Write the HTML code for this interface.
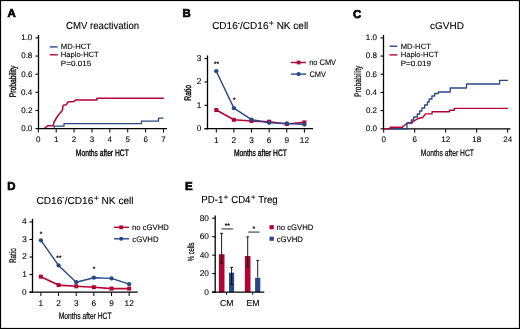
<!DOCTYPE html>
<html><head><meta charset="utf-8"><style>
html,body{margin:0;padding:0;background:#fff;}
svg{display:block;will-change:transform;text-rendering:geometricPrecision;}
text{font-family:"Liberation Sans", sans-serif;}
</style></head><body>
<svg width="520" height="329" viewBox="0 0 520 329">
<rect width="520" height="329" fill="#fff"/>
<rect x="0.5" y="0.5" width="519" height="328" fill="none" stroke="#000" stroke-width="1.2"/>
<text x="7.62" y="17.40" font-size="11.4" font-weight="bold" fill="#000" stroke="#000" stroke-width="0.7">A</text>
<text x="66.02" y="29.00" font-size="10.2" font-weight="normal" fill="#000" stroke="#000" stroke-width="0.1" textLength="73.09" lengthAdjust="spacingAndGlyphs">CMV reactivation</text>
<text x="32.32" y="131.00" font-size="8.0" text-anchor="end" fill="#000" stroke="#000" stroke-width="0.1">0.0</text>
<text x="32.40" y="112.86" font-size="8.0" text-anchor="end" fill="#000" stroke="#000" stroke-width="0.1">0.2</text>
<text x="32.24" y="94.72" font-size="8.0" text-anchor="end" fill="#000" stroke="#000" stroke-width="0.1">0.4</text>
<text x="32.36" y="76.58" font-size="8.0" text-anchor="end" fill="#000" stroke="#000" stroke-width="0.1">0.6</text>
<text x="32.32" y="58.44" font-size="8.0" text-anchor="end" fill="#000" stroke="#000" stroke-width="0.1">0.8</text>
<text x="32.32" y="40.30" font-size="8.0" text-anchor="end" fill="#000" stroke="#000" stroke-width="0.1">1.0</text>
<text x="38.30" y="142.30" font-size="8.0" text-anchor="middle" fill="#000" stroke="#000" stroke-width="0.1">0</text>
<text x="56.19" y="142.30" font-size="8.0" text-anchor="middle" fill="#000" stroke="#000" stroke-width="0.1">1</text>
<text x="74.07" y="142.30" font-size="8.0" text-anchor="middle" fill="#000" stroke="#000" stroke-width="0.1">2</text>
<text x="91.96" y="142.30" font-size="8.0" text-anchor="middle" fill="#000" stroke="#000" stroke-width="0.1">3</text>
<text x="109.84" y="142.30" font-size="8.0" text-anchor="middle" fill="#000" stroke="#000" stroke-width="0.1">4</text>
<text x="127.73" y="142.30" font-size="8.0" text-anchor="middle" fill="#000" stroke="#000" stroke-width="0.1">5</text>
<text x="145.61" y="142.30" font-size="8.0" text-anchor="middle" fill="#000" stroke="#000" stroke-width="0.1">6</text>
<text x="163.50" y="142.30" font-size="8.0" text-anchor="middle" fill="#000" stroke="#000" stroke-width="0.1">7</text>
<text x="75.86" y="155.80" font-size="9.3" font-weight="normal" fill="#000" stroke="#000" stroke-width="0.35" textLength="52.88" lengthAdjust="spacingAndGlyphs">Months after HCT</text>
<text x="15.06" y="96.70" font-size="9.6" font-weight="normal" fill="#000" stroke="#000" stroke-width="0.35" textLength="31.57" lengthAdjust="spacingAndGlyphs" transform="rotate(-90 15.60 96.70)">Probability</text>
<line x1="49.80" y1="46.90" x2="57.70" y2="46.90" stroke="#284886" stroke-width="1.4" />
<line x1="49.80" y1="54.80" x2="57.70" y2="54.80" stroke="#b20434" stroke-width="1.4" />
<text x="60.79" y="48.90" font-size="7.6" font-weight="normal" fill="#000" stroke="#000" stroke-width="0.1" textLength="30.15" lengthAdjust="spacingAndGlyphs">MD-HCT</text>
<text x="60.79" y="57.40" font-size="7.6" font-weight="normal" fill="#000" stroke="#000" stroke-width="0.1" textLength="37.97" lengthAdjust="spacingAndGlyphs">Haplo-HCT</text>
<text x="60.75" y="66.40" font-size="7.6" font-weight="normal" fill="#000" stroke="#000" stroke-width="0.1" textLength="30.40" lengthAdjust="spacingAndGlyphs">P=0.015</text>
<path d="M44.40,128.60 L45.50,127.50 L47.70,125.80 L53.10,125.80 L54.20,121.80 L56.40,118.00 L57.50,116.30 L59.10,114.10 L60.20,113.00 L62.40,110.30 L63.00,105.90 L64.00,105.00 L66.20,104.80 L67.90,102.10 L73.90,101.60 L75.50,100.00 L96.90,100.00 L96.90,98.20 L163.80,98.20" fill="none" stroke="#b20434" stroke-width="1.5" stroke-linejoin="round" />
<path d="M54.20,128.60 L54.20,126.10 L64.00,126.10 L64.00,123.60 L141.40,123.60 L141.40,121.20 L158.50,121.20 L158.50,118.20 L163.50,118.20" fill="none" stroke="#284886" stroke-width="1.3" stroke-linejoin="round" />
<text x="182.46" y="17.40" font-size="11.4" font-weight="bold" fill="#000" stroke="#000" stroke-width="0.7">B</text>
<text x="212.15" y="29.00" font-size="10.1" fill="#000" stroke="#000" stroke-width="0.1" textLength="96.20" lengthAdjust="spacingAndGlyphs">CD16<tspan font-size="6.2" dy="-4.5">-</tspan><tspan dy="4.5" dx="0.3">/CD16</tspan><tspan font-size="8.8" dy="-2.9" stroke-width="0" dx="0.3">+</tspan><tspan dy="2.9"> NK cell</tspan></text>
<text x="201.34" y="131.19" font-size="8.3" text-anchor="end" fill="#000" stroke="#000" stroke-width="0.1">0</text>
<text x="201.42" y="107.82" font-size="8.3" text-anchor="end" fill="#000" stroke="#000" stroke-width="0.1">1</text>
<text x="201.42" y="84.46" font-size="8.3" text-anchor="end" fill="#000" stroke="#000" stroke-width="0.1">2</text>
<text x="201.38" y="61.09" font-size="8.3" text-anchor="end" fill="#000" stroke="#000" stroke-width="0.1">3</text>
<text x="216.30" y="143.30" font-size="8.3" text-anchor="middle" fill="#000" stroke="#000" stroke-width="0.1">1</text>
<text x="233.92" y="143.30" font-size="8.3" text-anchor="middle" fill="#000" stroke="#000" stroke-width="0.1">2</text>
<text x="251.54" y="143.30" font-size="8.3" text-anchor="middle" fill="#000" stroke="#000" stroke-width="0.1">3</text>
<text x="269.16" y="143.30" font-size="8.3" text-anchor="middle" fill="#000" stroke="#000" stroke-width="0.1">6</text>
<text x="286.78" y="143.30" font-size="8.3" text-anchor="middle" fill="#000" stroke="#000" stroke-width="0.1">9</text>
<text x="304.40" y="143.30" font-size="8.3" text-anchor="middle" fill="#000" stroke="#000" stroke-width="0.1">12</text>
<text x="233.96" y="156.30" font-size="9.3" font-weight="normal" fill="#000" stroke="#000" stroke-width="0.35" textLength="52.88" lengthAdjust="spacingAndGlyphs">Months after HCT</text>
<text x="190.06" y="100.20" font-size="9.6" font-weight="normal" fill="#000" stroke="#000" stroke-width="0.35" textLength="15.81" lengthAdjust="spacingAndGlyphs" transform="rotate(-90 190.60 100.20)">Ratio</text>
<path d="M216.30,110.01 L233.92,119.82 L251.54,120.99 L269.16,121.69 L286.78,124.03 L304.40,122.39" fill="none" stroke="#b20434" stroke-width="1.6" stroke-linejoin="round" />
<rect x="214.30" y="108.01" width="4.00" height="4.00" fill="#b20434"/>
<rect x="231.92" y="117.82" width="4.00" height="4.00" fill="#b20434"/>
<rect x="249.54" y="118.99" width="4.00" height="4.00" fill="#b20434"/>
<rect x="267.16" y="119.69" width="4.00" height="4.00" fill="#b20434"/>
<rect x="284.78" y="122.03" width="4.00" height="4.00" fill="#b20434"/>
<rect x="302.40" y="120.39" width="4.00" height="4.00" fill="#b20434"/>
<path d="M216.30,71.22 L233.92,108.14 L251.54,119.59 L269.16,122.86 L286.78,123.33 L304.40,124.49" fill="none" stroke="#284886" stroke-width="1.4" stroke-linejoin="round" />
<circle cx="216.30" cy="71.22" r="2.15" fill="#284886"/>
<circle cx="233.92" cy="108.14" r="2.15" fill="#284886"/>
<circle cx="251.54" cy="119.59" r="2.15" fill="#284886"/>
<circle cx="269.16" cy="122.86" r="2.15" fill="#284886"/>
<circle cx="286.78" cy="123.33" r="2.15" fill="#284886"/>
<circle cx="304.40" cy="124.49" r="2.15" fill="#284886"/>
<text x="216.60" y="66.00" font-size="6.5" text-anchor="middle" fill="#000" stroke="#000" stroke-width="0.2">**</text>
<text x="234.20" y="101.60" font-size="6.5" text-anchor="middle" fill="#000" stroke="#000" stroke-width="0.2">*</text>
<line x1="291.00" y1="62.50" x2="306.10" y2="62.50" stroke="#b20434" stroke-width="1.4" />
<rect x="296.70" y="60.60" width="3.80" height="3.80" fill="#b20434"/>
<line x1="291.00" y1="74.10" x2="306.10" y2="74.10" stroke="#284886" stroke-width="1.4" />
<circle cx="298.60" cy="74.10" r="2.1" fill="#284886"/>
<text x="309.22" y="65.00" font-size="8.0" font-weight="normal" fill="#000" stroke="#000" stroke-width="0.1" textLength="26.84" lengthAdjust="spacingAndGlyphs">no CMV</text>
<text x="309.43" y="76.60" font-size="8.0" font-weight="normal" fill="#000" stroke="#000" stroke-width="0.1" textLength="16.53" lengthAdjust="spacingAndGlyphs">CMV</text>
<text x="352.94" y="17.70" font-size="11.4" font-weight="bold" fill="#000" stroke="#000" stroke-width="0.7">C</text>
<text x="430.05" y="29.20" font-size="9.7" font-weight="normal" fill="#000" stroke="#000" stroke-width="0.1" textLength="33.94" lengthAdjust="spacingAndGlyphs">cGVHD</text>
<text x="376.92" y="131.20" font-size="8.0" text-anchor="end" fill="#000" stroke="#000" stroke-width="0.1">0.0</text>
<text x="377.00" y="113.02" font-size="8.0" text-anchor="end" fill="#000" stroke="#000" stroke-width="0.1">0.2</text>
<text x="376.84" y="94.84" font-size="8.0" text-anchor="end" fill="#000" stroke="#000" stroke-width="0.1">0.4</text>
<text x="376.96" y="76.66" font-size="8.0" text-anchor="end" fill="#000" stroke="#000" stroke-width="0.1">0.6</text>
<text x="376.92" y="58.48" font-size="8.0" text-anchor="end" fill="#000" stroke="#000" stroke-width="0.1">0.8</text>
<text x="376.92" y="40.30" font-size="8.0" text-anchor="end" fill="#000" stroke="#000" stroke-width="0.1">1.0</text>
<text x="383.70" y="142.30" font-size="8.0" text-anchor="middle" fill="#000" stroke="#000" stroke-width="0.1">0</text>
<text x="414.70" y="142.30" font-size="8.0" text-anchor="middle" fill="#000" stroke="#000" stroke-width="0.1">6</text>
<text x="445.70" y="142.30" font-size="8.0" text-anchor="middle" fill="#000" stroke="#000" stroke-width="0.1">12</text>
<text x="476.70" y="142.30" font-size="8.0" text-anchor="middle" fill="#000" stroke="#000" stroke-width="0.1">18</text>
<text x="507.70" y="142.30" font-size="8.0" text-anchor="middle" fill="#000" stroke="#000" stroke-width="0.1">24</text>
<text x="420.86" y="155.80" font-size="9.3" font-weight="normal" fill="#000" stroke="#000" stroke-width="0.2" textLength="52.98" lengthAdjust="spacingAndGlyphs">Months after HCT</text>
<text x="360.76" y="96.40" font-size="9.6" font-weight="normal" fill="#000" stroke="#000" stroke-width="0.2" textLength="31.37" lengthAdjust="spacingAndGlyphs" transform="rotate(-90 361.30 96.40)">Probability</text>
<line x1="389.60" y1="46.20" x2="397.30" y2="46.20" stroke="#284886" stroke-width="1.4" />
<line x1="389.60" y1="54.90" x2="397.30" y2="54.90" stroke="#b20434" stroke-width="1.4" />
<text x="400.69" y="48.70" font-size="7.6" font-weight="normal" fill="#000" stroke="#000" stroke-width="0.1" textLength="30.15" lengthAdjust="spacingAndGlyphs">MD-HCT</text>
<text x="400.69" y="57.30" font-size="7.6" font-weight="normal" fill="#000" stroke="#000" stroke-width="0.1" textLength="37.97" lengthAdjust="spacingAndGlyphs">Haplo-HCT</text>
<text x="400.65" y="66.30" font-size="7.6" font-weight="normal" fill="#000" stroke="#000" stroke-width="0.1" textLength="30.44" lengthAdjust="spacingAndGlyphs">P=0.019</text>
<text x="7.36" y="189.80" font-size="11.4" font-weight="bold" fill="#000" stroke="#000" stroke-width="0.7">D</text>
<text x="36.55" y="203.50" font-size="10.1" fill="#000" stroke="#000" stroke-width="0.1" textLength="97.00" lengthAdjust="spacingAndGlyphs">CD16<tspan font-size="6.2" dy="-4.5">-</tspan><tspan dy="4.5" dx="0.3">/CD16</tspan><tspan font-size="8.8" dy="-2.9" stroke-width="0" dx="0.3">+</tspan><tspan dy="2.9"> NK cell</tspan></text>
<text x="26.74" y="294.59" font-size="8.3" text-anchor="end" fill="#000" stroke="#000" stroke-width="0.1">0</text>
<text x="26.82" y="277.04" font-size="8.3" text-anchor="end" fill="#000" stroke="#000" stroke-width="0.1">1</text>
<text x="26.82" y="259.49" font-size="8.3" text-anchor="end" fill="#000" stroke="#000" stroke-width="0.1">2</text>
<text x="26.78" y="241.94" font-size="8.3" text-anchor="end" fill="#000" stroke="#000" stroke-width="0.1">3</text>
<text x="26.66" y="224.39" font-size="8.3" text-anchor="end" fill="#000" stroke="#000" stroke-width="0.1">4</text>
<text x="40.90" y="306.00" font-size="8.3" text-anchor="middle" fill="#000" stroke="#000" stroke-width="0.1">1</text>
<text x="58.56" y="306.00" font-size="8.3" text-anchor="middle" fill="#000" stroke="#000" stroke-width="0.1">2</text>
<text x="76.22" y="306.00" font-size="8.3" text-anchor="middle" fill="#000" stroke="#000" stroke-width="0.1">3</text>
<text x="93.88" y="306.00" font-size="8.3" text-anchor="middle" fill="#000" stroke="#000" stroke-width="0.1">6</text>
<text x="111.54" y="306.00" font-size="8.3" text-anchor="middle" fill="#000" stroke="#000" stroke-width="0.1">9</text>
<text x="129.20" y="306.00" font-size="8.3" text-anchor="middle" fill="#000" stroke="#000" stroke-width="0.1">12</text>
<text x="58.66" y="318.80" font-size="9.3" font-weight="normal" fill="#000" stroke="#000" stroke-width="0.2" textLength="52.88" lengthAdjust="spacingAndGlyphs">Months after HCT</text>
<text x="15.79" y="262.60" font-size="9.6" font-weight="normal" fill="#000" stroke="#000" stroke-width="0.2" textLength="14.97" lengthAdjust="spacingAndGlyphs" transform="rotate(-90 16.30 262.60)">Ratio</text>
<path d="M40.90,276.66 L58.56,285.08 L76.22,286.31 L93.88,287.19 L111.54,288.59 L129.20,288.59" fill="none" stroke="#b20434" stroke-width="1.6" stroke-linejoin="round" />
<rect x="38.90" y="274.66" width="4.00" height="4.00" fill="#b20434"/>
<rect x="56.56" y="283.08" width="4.00" height="4.00" fill="#b20434"/>
<rect x="74.22" y="284.31" width="4.00" height="4.00" fill="#b20434"/>
<rect x="91.88" y="285.19" width="4.00" height="4.00" fill="#b20434"/>
<rect x="109.54" y="286.59" width="4.00" height="4.00" fill="#b20434"/>
<rect x="127.20" y="286.59" width="4.00" height="4.00" fill="#b20434"/>
<path d="M40.90,240.33 L58.56,265.42 L76.22,282.27 L93.88,277.71 L111.54,278.41 L129.20,284.20" fill="none" stroke="#284886" stroke-width="1.4" stroke-linejoin="round" />
<circle cx="40.90" cy="240.33" r="2.15" fill="#284886"/>
<circle cx="58.56" cy="265.42" r="2.15" fill="#284886"/>
<circle cx="76.22" cy="282.27" r="2.15" fill="#284886"/>
<circle cx="93.88" cy="277.71" r="2.15" fill="#284886"/>
<circle cx="111.54" cy="278.41" r="2.15" fill="#284886"/>
<circle cx="129.20" cy="284.20" r="2.15" fill="#284886"/>
<text x="40.90" y="236.30" font-size="6.5" text-anchor="middle" fill="#000" stroke="#000" stroke-width="0.2">*</text>
<text x="58.90" y="260.30" font-size="6.5" text-anchor="middle" fill="#000" stroke="#000" stroke-width="0.2">**</text>
<text x="93.90" y="271.00" font-size="6.5" text-anchor="middle" fill="#000" stroke="#000" stroke-width="0.2">*</text>
<line x1="114.00" y1="227.30" x2="129.00" y2="227.30" stroke="#b20434" stroke-width="1.4" />
<rect x="119.30" y="225.40" width="3.80" height="3.80" fill="#b20434"/>
<line x1="114.00" y1="238.80" x2="129.00" y2="238.80" stroke="#284886" stroke-width="1.4" />
<circle cx="121.20" cy="238.80" r="2.0" fill="#284886"/>
<text x="132.10" y="229.90" font-size="8.0" font-weight="normal" fill="#000" stroke="#000" stroke-width="0.1" textLength="36.68" lengthAdjust="spacingAndGlyphs">no cGVHD</text>
<text x="132.25" y="241.50" font-size="8.0" font-weight="normal" fill="#000" stroke="#000" stroke-width="0.1" textLength="26.33" lengthAdjust="spacingAndGlyphs">cGVHD</text>
<text x="185.06" y="189.50" font-size="11.4" font-weight="bold" fill="#000" stroke="#000" stroke-width="0.7">E</text>
<text x="201.3" y="203.3" font-size="10.1" fill="#000" stroke="#000" stroke-width="0.1" textLength="76.4" lengthAdjust="spacingAndGlyphs">PD-1<tspan font-size="8.8" dy="-2.9" stroke-width="0" dx="0.3">+</tspan><tspan dy="2.9"> CD4</tspan><tspan font-size="8.8" dy="-2.9" stroke-width="0" dx="0.3">+</tspan><tspan dy="2.9"> Treg</tspan></text>
<text x="208.94" y="294.59" font-size="8.3" text-anchor="end" fill="#000" stroke="#000" stroke-width="0.1">0</text>
<text x="208.95" y="276.12" font-size="8.3" text-anchor="end" fill="#000" stroke="#000" stroke-width="0.1">20</text>
<text x="208.95" y="257.64" font-size="8.3" text-anchor="end" fill="#000" stroke="#000" stroke-width="0.1">40</text>
<text x="208.95" y="239.17" font-size="8.3" text-anchor="end" fill="#000" stroke="#000" stroke-width="0.1">60</text>
<text x="208.95" y="220.69" font-size="8.3" text-anchor="end" fill="#000" stroke="#000" stroke-width="0.1">80</text>
<text x="220.07" y="306.00" font-size="8.6" font-weight="normal" fill="#000" stroke="#000" stroke-width="0.1" textLength="13.47" lengthAdjust="spacingAndGlyphs">CM</text>
<text x="246.50" y="306.00" font-size="8.6" font-weight="normal" fill="#000" stroke="#000" stroke-width="0.1" textLength="13.03" lengthAdjust="spacingAndGlyphs">EM</text>
<text x="193.39" y="261.00" font-size="9.0" font-weight="normal" fill="#000" stroke="#000" stroke-width="0.2" textLength="18.60" lengthAdjust="spacingAndGlyphs" transform="rotate(-90 193.60 261.00)">% cells</text>
<rect x="218.90" y="254.23" width="5.60" height="37.87" fill="#b20434"/>
<rect x="229.00" y="272.70" width="5.10" height="19.40" fill="#284886"/>
<rect x="244.90" y="256.07" width="5.60" height="36.03" fill="#b20434"/>
<rect x="255.10" y="277.78" width="5.20" height="14.32" fill="#284886"/>
<line x1="221.60" y1="233.30" x2="221.60" y2="263.20" stroke="#000" stroke-width="0.9" />
<line x1="220.20" y1="233.30" x2="223.00" y2="233.30" stroke="#000" stroke-width="0.9" />
<line x1="220.20" y1="263.20" x2="223.00" y2="263.20" stroke="#000" stroke-width="0.9" />
<line x1="231.60" y1="267.40" x2="231.60" y2="284.40" stroke="#000" stroke-width="0.9" />
<line x1="230.20" y1="267.40" x2="233.00" y2="267.40" stroke="#000" stroke-width="0.9" />
<line x1="230.20" y1="284.40" x2="233.00" y2="284.40" stroke="#000" stroke-width="0.9" />
<line x1="247.70" y1="236.90" x2="247.70" y2="266.70" stroke="#000" stroke-width="0.9" />
<line x1="246.30" y1="236.90" x2="249.10" y2="236.90" stroke="#000" stroke-width="0.9" />
<line x1="246.30" y1="266.70" x2="249.10" y2="266.70" stroke="#000" stroke-width="0.9" />
<line x1="257.70" y1="260.40" x2="257.70" y2="277.60" stroke="#000" stroke-width="0.9" />
<line x1="256.30" y1="260.40" x2="259.10" y2="260.40" stroke="#000" stroke-width="0.9" />
<line x1="221.50" y1="228.90" x2="233.10" y2="228.90" stroke="#666" stroke-width="1.4" />
<text x="227.30" y="228.00" font-size="6.8" text-anchor="middle" fill="#000" stroke="#000" stroke-width="0.2">**</text>
<line x1="248.20" y1="232.10" x2="259.50" y2="232.10" stroke="#666" stroke-width="1.4" />
<text x="253.80" y="231.00" font-size="6.8" text-anchor="middle" fill="#000" stroke="#000" stroke-width="0.2">*</text>
<rect x="269.50" y="225.20" width="4.30" height="4.10" fill="#b20434"/>
<rect x="269.50" y="236.70" width="4.30" height="4.10" fill="#284886"/>
<text x="276.50" y="229.90" font-size="8.0" font-weight="normal" fill="#000" stroke="#000" stroke-width="0.1" textLength="36.88" lengthAdjust="spacingAndGlyphs">no cGVHD</text>
<text x="276.65" y="241.50" font-size="8.0" font-weight="normal" fill="#000" stroke="#000" stroke-width="0.1" textLength="26.33" lengthAdjust="spacingAndGlyphs">cGVHD</text>
<line x1="38.50" y1="35.00" x2="38.50" y2="129.25" stroke="#000" stroke-width="1.3" />
<line x1="35.50" y1="128.60" x2="38.50" y2="128.60" stroke="#000" stroke-width="1.1" />
<line x1="35.50" y1="110.46" x2="38.50" y2="110.46" stroke="#000" stroke-width="1.1" />
<line x1="35.50" y1="92.32" x2="38.50" y2="92.32" stroke="#000" stroke-width="1.1" />
<line x1="35.50" y1="74.18" x2="38.50" y2="74.18" stroke="#000" stroke-width="1.1" />
<line x1="35.50" y1="56.04" x2="38.50" y2="56.04" stroke="#000" stroke-width="1.1" />
<line x1="35.50" y1="37.90" x2="38.50" y2="37.90" stroke="#000" stroke-width="1.1" />
<line x1="38.50" y1="128.60" x2="167.00" y2="128.60" stroke="#000" stroke-width="1.3" />
<line x1="38.30" y1="128.60" x2="38.30" y2="132.50" stroke="#000" stroke-width="1.0" />
<line x1="56.19" y1="128.60" x2="56.19" y2="132.50" stroke="#000" stroke-width="1.0" />
<line x1="74.07" y1="128.60" x2="74.07" y2="132.50" stroke="#000" stroke-width="1.0" />
<line x1="91.96" y1="128.60" x2="91.96" y2="132.50" stroke="#000" stroke-width="1.0" />
<line x1="109.84" y1="128.60" x2="109.84" y2="132.50" stroke="#000" stroke-width="1.0" />
<line x1="127.73" y1="128.60" x2="127.73" y2="132.50" stroke="#000" stroke-width="1.0" />
<line x1="145.61" y1="128.60" x2="145.61" y2="132.50" stroke="#000" stroke-width="1.0" />
<line x1="163.50" y1="128.60" x2="163.50" y2="132.50" stroke="#000" stroke-width="1.0" />
<line x1="207.50" y1="55.50" x2="207.50" y2="129.35" stroke="#000" stroke-width="1.3" />
<line x1="204.50" y1="128.70" x2="207.50" y2="128.70" stroke="#000" stroke-width="1.1" />
<line x1="204.50" y1="105.33" x2="207.50" y2="105.33" stroke="#000" stroke-width="1.1" />
<line x1="204.50" y1="81.97" x2="207.50" y2="81.97" stroke="#000" stroke-width="1.1" />
<line x1="204.50" y1="58.60" x2="207.50" y2="58.60" stroke="#000" stroke-width="1.1" />
<line x1="204.50" y1="128.70" x2="313.00" y2="128.70" stroke="#000" stroke-width="1.3" />
<line x1="216.30" y1="128.70" x2="216.30" y2="132.60" stroke="#000" stroke-width="1.0" />
<line x1="233.92" y1="128.70" x2="233.92" y2="132.60" stroke="#000" stroke-width="1.0" />
<line x1="251.54" y1="128.70" x2="251.54" y2="132.60" stroke="#000" stroke-width="1.0" />
<line x1="269.16" y1="128.70" x2="269.16" y2="132.60" stroke="#000" stroke-width="1.0" />
<line x1="286.78" y1="128.70" x2="286.78" y2="132.60" stroke="#000" stroke-width="1.0" />
<line x1="304.40" y1="128.70" x2="304.40" y2="132.60" stroke="#000" stroke-width="1.0" />
<line x1="383.50" y1="35.00" x2="383.50" y2="129.45" stroke="#000" stroke-width="1.3" />
<line x1="380.50" y1="128.80" x2="383.50" y2="128.80" stroke="#000" stroke-width="1.1" />
<line x1="380.50" y1="110.62" x2="383.50" y2="110.62" stroke="#000" stroke-width="1.1" />
<line x1="380.50" y1="92.44" x2="383.50" y2="92.44" stroke="#000" stroke-width="1.1" />
<line x1="380.50" y1="74.26" x2="383.50" y2="74.26" stroke="#000" stroke-width="1.1" />
<line x1="380.50" y1="56.08" x2="383.50" y2="56.08" stroke="#000" stroke-width="1.1" />
<line x1="380.50" y1="37.90" x2="383.50" y2="37.90" stroke="#000" stroke-width="1.1" />
<line x1="383.50" y1="128.80" x2="510.50" y2="128.80" stroke="#000" stroke-width="1.3" />
<line x1="383.70" y1="128.80" x2="383.70" y2="132.70" stroke="#000" stroke-width="1.0" />
<line x1="414.70" y1="128.80" x2="414.70" y2="132.70" stroke="#000" stroke-width="1.0" />
<line x1="445.70" y1="128.80" x2="445.70" y2="132.70" stroke="#000" stroke-width="1.0" />
<line x1="476.70" y1="128.80" x2="476.70" y2="132.70" stroke="#000" stroke-width="1.0" />
<line x1="507.70" y1="128.80" x2="507.70" y2="132.70" stroke="#000" stroke-width="1.0" />
<path d="M383.70,128.80 L390.20,128.80 L390.20,127.20 L402.40,127.20 L404.00,125.50 L405.50,124.60 L407.40,123.00 L412.30,123.00 L412.30,122.00 L415.00,120.30 L417.20,119.00 L418.40,118.50 L421.20,117.80 L422.50,117.80 L425.50,113.90 L432.10,113.90 L432.10,111.80 L449.60,111.80 L449.60,110.20 L454.30,110.20 L454.30,108.40 L507.90,108.40" fill="none" stroke="#b20434" stroke-width="1.4" stroke-linejoin="round" />
<path d="M390.20,128.80 L407.00,128.80 L407.00,122.90 L411.30,122.90 L411.30,120.00 L413.70,120.00 L413.70,117.00 L417.30,117.00 L417.30,114.00 L419.70,114.00 L419.70,111.00 L421.90,111.00 L421.90,108.00 L424.60,108.00 L424.60,105.00 L427.40,105.00 L427.40,102.00 L429.20,102.00 L429.20,99.00 L431.90,99.00 L431.90,96.00 L434.70,96.00 L434.70,93.50 L438.30,93.50 L438.30,92.00 L450.20,92.00 L450.20,88.00 L466.50,88.00 L466.50,84.00 L499.60,84.00 L499.60,80.40 L507.90,80.40" fill="none" stroke="#284886" stroke-width="1.3" stroke-linejoin="round" />
<line x1="32.50" y1="218.80" x2="32.50" y2="292.75" stroke="#000" stroke-width="1.3" />
<line x1="29.50" y1="292.10" x2="32.50" y2="292.10" stroke="#000" stroke-width="1.1" />
<line x1="29.50" y1="274.55" x2="32.50" y2="274.55" stroke="#000" stroke-width="1.1" />
<line x1="29.50" y1="257.00" x2="32.50" y2="257.00" stroke="#000" stroke-width="1.1" />
<line x1="29.50" y1="239.45" x2="32.50" y2="239.45" stroke="#000" stroke-width="1.1" />
<line x1="29.50" y1="221.90" x2="32.50" y2="221.90" stroke="#000" stroke-width="1.1" />
<line x1="29.50" y1="292.10" x2="137.70" y2="292.10" stroke="#000" stroke-width="1.3" />
<line x1="40.90" y1="292.10" x2="40.90" y2="296.00" stroke="#000" stroke-width="1.0" />
<line x1="58.56" y1="292.10" x2="58.56" y2="296.00" stroke="#000" stroke-width="1.0" />
<line x1="76.22" y1="292.10" x2="76.22" y2="296.00" stroke="#000" stroke-width="1.0" />
<line x1="93.88" y1="292.10" x2="93.88" y2="296.00" stroke="#000" stroke-width="1.0" />
<line x1="111.54" y1="292.10" x2="111.54" y2="296.00" stroke="#000" stroke-width="1.0" />
<line x1="129.20" y1="292.10" x2="129.20" y2="296.00" stroke="#000" stroke-width="1.0" />
<line x1="215.20" y1="215.50" x2="215.20" y2="292.75" stroke="#000" stroke-width="1.3" />
<line x1="212.20" y1="292.10" x2="215.20" y2="292.10" stroke="#000" stroke-width="1.1" />
<line x1="212.20" y1="273.62" x2="215.20" y2="273.62" stroke="#000" stroke-width="1.1" />
<line x1="212.20" y1="255.15" x2="215.20" y2="255.15" stroke="#000" stroke-width="1.1" />
<line x1="212.20" y1="236.68" x2="215.20" y2="236.68" stroke="#000" stroke-width="1.1" />
<line x1="212.20" y1="218.20" x2="215.20" y2="218.20" stroke="#000" stroke-width="1.1" />
<line x1="212.10" y1="292.10" x2="264.30" y2="292.10" stroke="#000" stroke-width="1.3" />
<line x1="226.50" y1="292.10" x2="226.50" y2="294.70" stroke="#000" stroke-width="1.0" />
<line x1="252.70" y1="292.10" x2="252.70" y2="294.70" stroke="#000" stroke-width="1.0" />
</svg>
</body></html>
